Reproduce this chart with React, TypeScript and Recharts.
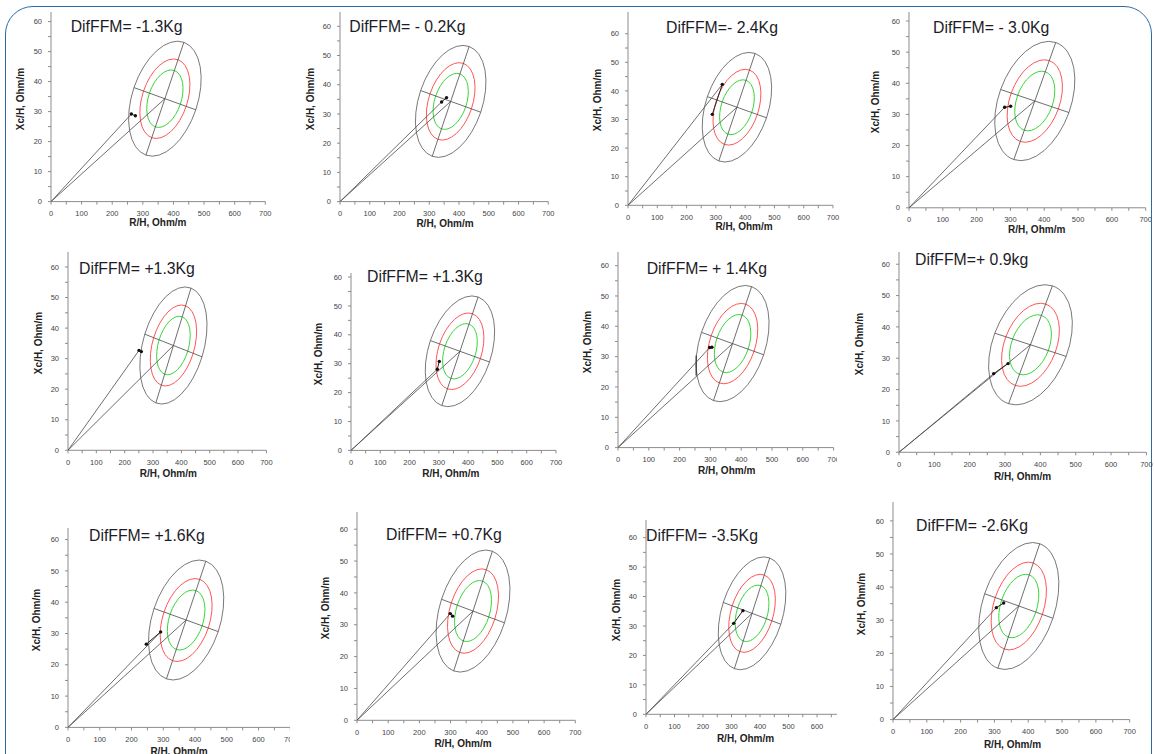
import React from 'react';
import { ScatterChart, Scatter, XAxis, YAxis } from 'recharts';

// reference population (same in every panel)
const REF_CENTER = { r: 372, xc: 34.3 };
const ORIGIN = { r: 0, xc: 0 };
// tolerance ellipses: centre, end of semi-major axis, end of semi-minor axis
const TOL_95 = [REF_CENTER, { r: 434, xc: 53.1 }, { r: 271, xc: 38.0 }];
const TOL_75 = [REF_CENTER, { r: 414.8, xc: 47.3 }, { r: 302.3, xc: 36.85 }];
const TOL_50 = [REF_CENTER, { r: 403, xc: 43.7 }, { r: 321.5, xc: 36.15 }];
const MAJOR_AXIS = [{ r: 310, xc: 15.5 }, { r: 434, xc: 53.1 }];
const MINOR_AXIS = [{ r: 271, xc: 38.0 }, { r: 473, xc: 30.6 }];

const X_TICKS = [0, 50, 100, 150, 200, 250, 300, 350, 400, 450, 500, 550, 600, 650, 700];
const Y_TICKS = [0, 5, 10, 15, 20, 25, 30, 35, 40, 45, 50, 55, 60];

const TITLES = [
  'DifFFM= -1.3Kg', 'DifFFM= - 0.2Kg', 'DifFFM=- 2.4Kg', 'DifFFM= - 3.0Kg',
  'DifFFM= +1.3Kg', 'DifFFM= +1.3Kg', 'DifFFM= + 1.4Kg', 'DifFFM=+ 0.9kg',
  'DifFFM= +1.6Kg', 'DifFFM= +0.7Kg', 'DifFFM= -3.5Kg', 'DifFFM= -2.6Kg',
];

// patient vectors, first and second measurement
const VISIT_1 = [
  { r: 262.5, xc: 29.2 }, { r: 341.5, xc: 34.1 }, { r: 287.8, xc: 31.8 }, { r: 283, xc: 32.3 },
  { r: 250.6, xc: 32.7 }, { r: 301.5, xc: 30.8 }, { r: 297.6, xc: 33.0 }, { r: 268, xc: 25.1 },
  { r: 246.6, xc: 26.6 }, { r: 299, xc: 33.5 }, { r: 340, xc: 35.2 }, { r: 305.6, xc: 33.8 },
];
const VISIT_2 = [
  { r: 275.6, xc: 28.6 }, { r: 358, xc: 35.6 }, { r: 322, xc: 42.3 }, { r: 300.7, xc: 32.6 },
  { r: 258.8, xc: 32.3 }, { r: 294.7, xc: 28.1 }, { r: 305, xc: 33.1 }, { r: 308.5, xc: 28.3 },
  { r: 291.7, xc: 30.5 }, { r: 306.6, xc: 32.7 }, { r: 307.6, xc: 30.9 }, { r: 327.3, xc: 35.2 },
];
// which measurement the line from the origin reaches
const VECTOR_TO = [1, 1, 2, 1, 1, 2, 1, 1, 2, 1, 2, 1];
const STRAY_SEGMENT = [{ r: 254, xc: 30.4 }, { r: 254, xc: 23.8 }]; // panel 7 only

const X_MAX = [700, 700, 700, 700, 700, 700, 700, 700, 700, 700, 670, 700];
const Y_MAX = [63.2, 64.9, 67.6, 62.9, 64.9, 61.4, 64.5, 63.9, 63.7, 65.4, 66, 65.7];

// where each pasted panel sits on the page (plot origin, plot size in px)
const LAYOUT = [
  { x0: 50.7, y0: 201.3, w: 214.3, h: 189.6, t: [70.7, 27], yl: [20.7, 98.5], xl: [157.9, 223.3] },
  { x0: 340, y0: 201.3, w: 208.3, h: 189.6, t: [349.3, 27], yl: [310.7, 98.5], xl: [445, 224] },
  { x0: 628.3, y0: 205, w: 205, h: 193.3, t: [666, 28], yl: [598, 100], xl: [744, 227.3] },
  { x0: 909.3, y0: 207.5, w: 236.7, h: 195.8, t: [933, 28], yl: [876, 102], xl: [1036.7, 229.5], clip: 1151 },
  { x0: 68.3, y0: 450, w: 198.4, h: 198.3, t: [79, 269], yl: [39.3, 343], xl: [168.3, 473.8] },
  { x0: 350.7, y0: 450.7, w: 205, h: 177.4, t: [367, 277], yl: [319.3, 354], xl: [450.8, 473.8] },
  { x0: 617.7, y0: 447.3, w: 215.6, h: 195.6, t: [646.7, 269], yl: [588.3, 341.5], xl: [726.7, 471], clip: 837 },
  { x0: 899.3, y0: 452, w: 247.4, h: 200.3, t: [915, 260], yl: [860, 344], xl: [1022.5, 477] },
  { x0: 67.7, y0: 727.7, w: 222.3, h: 199.4, t: [89, 536], yl: [36.7, 620], xl: [179, 751.7], clip: 290 },
  { x0: 356.7, y0: 720, w: 218.3, h: 208.3, t: [386, 535], yl: [326, 608], xl: [463, 743.8] },
  { x0: 645.7, y0: 714.3, w: 191, h: 194.3, t: [646, 536], yl: [617.3, 610], xl: [745.5, 738.8] },
  { x0: 893.3, y0: 719.3, w: 236.7, h: 217.6, t: [916, 526], yl: [861.7, 604], xl: [1012.5, 745] },
];

const FONT = '"Liberation Sans", Arial, sans-serif';
const ML = 45; // margin.left + yAxis width
const MT = 10;
const MR = 20;
const MB = 30;

const NoShape = () => <g />;

const Dot = (props: any) => <circle cx={props.cx} cy={props.cy} r={1.7} fill="#111" />;

// ellipse through the pixel positions of centre + two conjugate semi-axes
const EllipseLine = (props: any) => {
  const { points, lineColor, lineWidth } = props;
  if (!points || points.length < 3) return null;
  const [c, u, v] = points;
  const m = [u.x - c.x, u.y - c.y, v.x - c.x, v.y - c.y, c.x, c.y].join(',');
  return (
    <circle cx={0} cy={0} r={1} fill="none" stroke={lineColor} strokeWidth={lineWidth}
      transform={`matrix(${m})`} vectorEffect="non-scaling-stroke" />
  );
};

const plain = { stroke: '#4a4a4a', strokeWidth: 0.8 };

const Panel = ({ i }: { i: number }) => {
  const L: any = LAYOUT[i];
  const xMax = X_MAX[i];
  const yMax = Y_MAX[i];
  const width = L.w + ML + MR;
  const height = L.h + MT + MB;
  const left = L.x0 - ML;
  const top = L.y0 - L.h - MT;
  const vecEnd = VECTOR_TO[i] === 1 ? VISIT_1[i] : VISIT_2[i];
  const visits = [VISIT_1[i], VISIT_2[i]];
  const clipW = L.clip ? L.clip - left : width;
  return (
    <>
      <div style={{ position: 'absolute', left, top, width: clipW, height, overflow: 'hidden' }}>
        <ScatterChart width={width} height={height} margin={{ top: MT, right: MR, bottom: 0, left: 10 }}>
          <XAxis type="number" dataKey="r" domain={[0, xMax]} allowDataOverflow
            ticks={X_TICKS.filter((t) => t <= xMax)} interval={0} height={MB}
            tickFormatter={(v: number) => (v % 100 === 0 ? String(v) : '')}
            tickSize={3} tickMargin={6} stroke="#8c8c8c"
            tick={{ fontSize: 7.5, fill: '#444', fontFamily: FONT }} />
          <YAxis type="number" dataKey="xc" domain={[0, yMax]} allowDataOverflow
            ticks={Y_TICKS} interval={0} width={35}
            tickFormatter={(v: number) => (v % 10 === 0 ? String(v) : '')}
            tickSize={3} tickMargin={6} stroke="#8c8c8c"
            tick={{ fontSize: 7.5, fill: '#444', fontFamily: FONT }} />
          <Scatter data={TOL_95} shape={NoShape} lineType="joint" isAnimationActive={false}
            line={<EllipseLine lineColor="#555" lineWidth={0.8} />} />
          <Scatter data={TOL_75} shape={NoShape} lineType="joint" isAnimationActive={false}
            line={<EllipseLine lineColor="#ff5555" lineWidth={1} />} />
          <Scatter data={TOL_50} shape={NoShape} lineType="joint" isAnimationActive={false}
            line={<EllipseLine lineColor="#3ad43a" lineWidth={1} />} />
          <Scatter data={MAJOR_AXIS} shape={NoShape} line={plain} isAnimationActive={false} />
          <Scatter data={MINOR_AXIS} shape={NoShape} line={plain} isAnimationActive={false} />
          <Scatter data={[ORIGIN, REF_CENTER]} shape={NoShape} line={plain} isAnimationActive={false} />
          <Scatter data={[ORIGIN, vecEnd]} shape={NoShape} line={plain} isAnimationActive={false} />
          {i === 6 && (
            <Scatter data={STRAY_SEGMENT} shape={NoShape} line={{ stroke: '#444', strokeWidth: 1.4 }} isAnimationActive={false} />
          )}
          <Scatter data={visits} shape={Dot} line={{ stroke: '#222', strokeWidth: 1 }} isAnimationActive={false} />
        </ScatterChart>
      </div>
      <div style={{ position: 'absolute', left: L.t[0], top: L.t[1] - 8, fontSize: 15.8, lineHeight: '16px',
        color: '#1c1c28', whiteSpace: 'nowrap', fontFamily: FONT }}>
        {TITLES[i]}
      </div>
      <div style={{ position: 'absolute', left: L.yl[0], top: L.yl[1], transform: 'translate(-50%, -50%) rotate(-90deg)',
        fontSize: 10, fontWeight: 'bold', color: '#222', whiteSpace: 'nowrap', fontFamily: FONT, lineHeight: '10px' }}>
        Xc/H, Ohm/m
      </div>
      <div style={{ position: 'absolute', left: L.xl[0], top: L.xl[1], transform: 'translate(-50%, -50%)',
        fontSize: 10, fontWeight: 'bold', color: '#222', whiteSpace: 'nowrap', fontFamily: FONT, lineHeight: '10px' }}>
        R/H, Ohm/m
      </div>
    </>
  );
};

export default function App() {
  return (
    <div style={{ position: 'absolute', left: 0, top: 0, width: 1155, height: 754, overflow: 'hidden', background: '#fff' }}>
      <div style={{ position: 'absolute', left: 5, top: 6, width: 1145, height: 800,
        border: '1.5px solid #2b6aa3', borderRadius: '28px 28px 0 0' }} />
      {TITLES.map((_, i) => (
        <Panel key={i} i={i} />
      ))}
    </div>
  );
}
